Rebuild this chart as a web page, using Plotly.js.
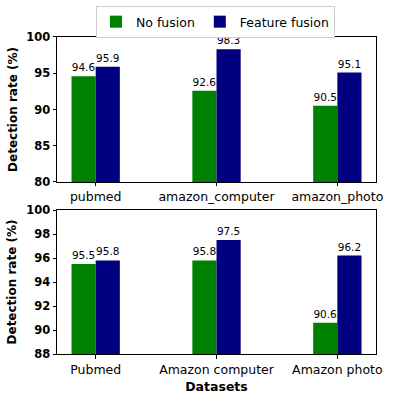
<!DOCTYPE html>
<html>
<head>
<meta charset="utf-8">
<script src="https://cdn.plot.ly/plotly-3.0.1.min.js"></script>
<style>
  body { margin: 0; }
  #chart { width: 399px; height: 402px; }
</style>
</head>
<body>
<div id="chart"></div>
<script>
// Data
var topDatasets = ["pubmed", "amazon_computer", "amazon_photo"];
var topNoFusion = [94.6, 92.6, 90.5];
var topFeatureFusion = [95.9, 98.3, 95.1];

var bottomDatasets = ["Pubmed", "Amazon computer", "Amazon photo"];
var bottomNoFusion = [95.5, 95.8, 90.6];
var bottomFeatureFusion = [95.8, 97.5, 96.2];

var seriesNames = ["No fusion", "Feature fusion"];
var green = "#008000";
var navy = "#000080";

function barTrace(x, y, name, color, xa, ya, showLegend) {
    return {
        x: x,
        y: y,
        name: name,
        type: "bar",
        marker: {color: color},
        text: y.map(v => v.toFixed(1)),
        textposition: "outside",
        textfont: {size: 10.5, color: "#000"},
        cliponaxis: false,
        xaxis: xa,
        yaxis: ya,
        legendgroup: name,
        showlegend: showLegend
    };
}

var data = [
    barTrace(topDatasets, topNoFusion, seriesNames[0], green, "x", "y", true),
    barTrace(topDatasets, topFeatureFusion, seriesNames[1], navy, "x", "y", true),
    barTrace(bottomDatasets, bottomNoFusion, seriesNames[0], green, "x2", "y2", false),
    barTrace(bottomDatasets, bottomFeatureFusion, seriesNames[1], navy, "x2", "y2", false)
];

var axisBase = {
    showline: true,
    mirror: true,
    linecolor: "#000",
    linewidth: 1,
    ticks: "outside",
    ticklen: 3.5,
    tickcolor: "#000",
    showgrid: false,
    zeroline: false
};

var layout = {
    width: 399,
    height: 402,
    margin: {l: 0, r: 0, t: 0, b: 0},
    font: {family: "DejaVu Sans", color: "#000"},
    paper_bgcolor: "#fff",
    plot_bgcolor: "#fff",
    barmode: "group",
    bargap: 0.6,
    bargroupgap: 0,
    showlegend: true,
    legend: {
        orientation: "h",
        x: 0.54, xanchor: "center",
        y: 0.985, yanchor: "top",
        bordercolor: "#ccc",
        borderwidth: 1,
        font: {size: 12.5}
    },
    xaxis: Object.assign({}, axisBase, {
        domain: [0.1429, 0.9424],
        anchor: "y",
        range: [-0.32, 2.32],
        tickfont: {size: 12.5}
    }),
    yaxis: Object.assign({}, axisBase, {
        domain: [0.5473, 0.908],
        anchor: "x",
        range: [80, 100],
        dtick: 5,
        tickfont: {size: 11.5, weight: "bold"},
        title: {text: "Detection rate (%)", font: {size: 12, weight: "bold"}, standoff: 6}
    }),
    xaxis2: Object.assign({}, axisBase, {
        domain: [0.1429, 0.9424],
        anchor: "y2",
        range: [-0.32, 2.32],
        tickfont: {size: 12.5},
        title: {text: "Datasets", font: {size: 12.5, weight: "bold"}, standoff: 6}
    }),
    yaxis2: Object.assign({}, axisBase, {
        domain: [0.1194, 0.4776],
        anchor: "x2",
        range: [88, 100],
        dtick: 2,
        tickfont: {size: 11.5, weight: "bold"},
        title: {text: "Detection rate (%)", font: {size: 12, weight: "bold"}, standoff: 6}
    })
};

Plotly.newPlot("chart", data, layout, {displayModeBar: false});
</script>
</body>
</html>
